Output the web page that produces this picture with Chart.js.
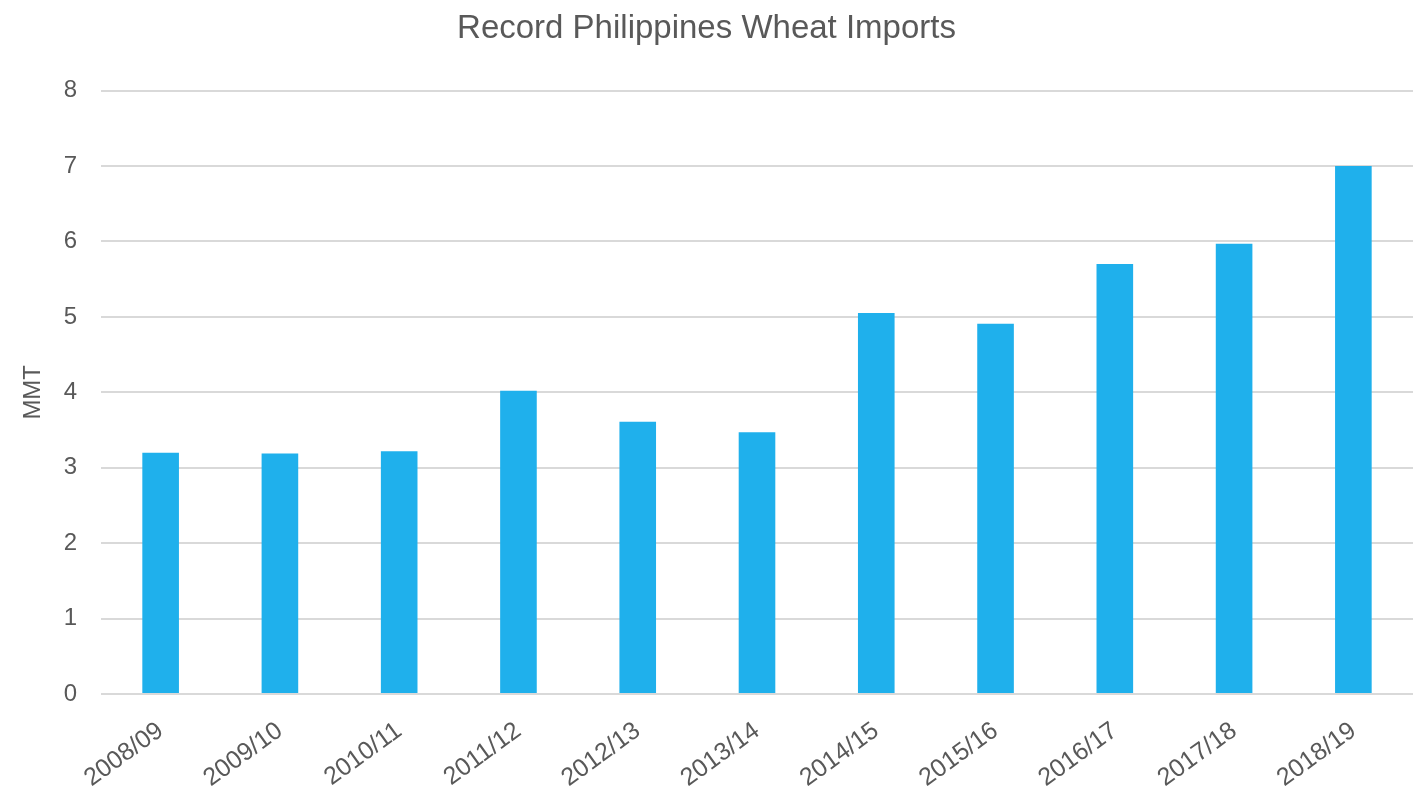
<!DOCTYPE html>
<html>
<head>
<meta charset="utf-8">
<title>Record Philippines Wheat Imports</title>
<script src="https://cdn.jsdelivr.net/npm/chart.js@4/dist/chart.umd.min.js"></script>
<style>
  html, body { margin: 0; padding: 0; background: #ffffff; }
  #wrap { width: 1418px; height: 812px; position: relative; }
</style>
</head>
<body>
<div id="wrap"><canvas id="chart"></canvas></div>
<script>
// Marketing years and wheat imports (million metric tons)
const seasons = ['2008/09', '2009/10', '2010/11', '2011/12', '2012/13', '2013/14',
                 '2014/15', '2015/16', '2016/17', '2017/18', '2018/19'];
const imports = [3.20, 3.19, 3.22, 4.02, 3.61, 3.47, 5.05, 4.91, 5.70, 5.97, 7.00];
const yRange = [0, 8];

const textColor = '#595959';
const fontFamily = '"Liberation Sans", Arial, Helvetica, sans-serif';

new Chart(document.getElementById('chart'), {
  type: 'bar',
  data: {
    labels: seasons,
    datasets: [{
      label: 'Wheat imports',
      data: imports,
      backgroundColor: '#1FB0EC',
      borderWidth: 0,
      categoryPercentage: 1.0,
      barPercentage: 0.307
    }]
  },
  options: {
    responsive: true,
    maintainAspectRatio: false,
    animation: false,
    layout: { padding: { left: 0, right: 5, top: 0, bottom: 0 } },
    plugins: {
      legend: { display: false },
      tooltip: { enabled: false },
      title: {
        display: true,
        text: 'Record Philippines Wheat Imports',
        color: textColor,
        font: { family: fontFamily, size: 33, weight: 'normal' },
        padding: { top: 9, bottom: 42 }
      }
    },
    scales: {
      x: {
        grid: { display: false },
        border: { display: false },
        ticks: {
          color: textColor,
          font: { family: fontFamily, size: 25 },
          minRotation: 36,
          maxRotation: 36,
          padding: 14
        },
        afterFit(scale) { scale.height = 118; }
      },
      y: {
        min: yRange[0],
        max: yRange[1],
        border: { display: false },
        grid: { color: '#d9d9d9', lineWidth: 2, drawTicks: false },
        ticks: {
          stepSize: 1,
          color: textColor,
          font: { family: fontFamily, size: 24 },
          padding: 24
        },
        title: {
          display: true,
          text: 'MMT',
          color: textColor,
          font: { family: fontFamily, size: 24 },
          padding: { top: 19, bottom: 0 }
        },
        afterFit(scale) { scale.width = 101; }
      }
    }
  }
});
</script>
</body>
</html>
